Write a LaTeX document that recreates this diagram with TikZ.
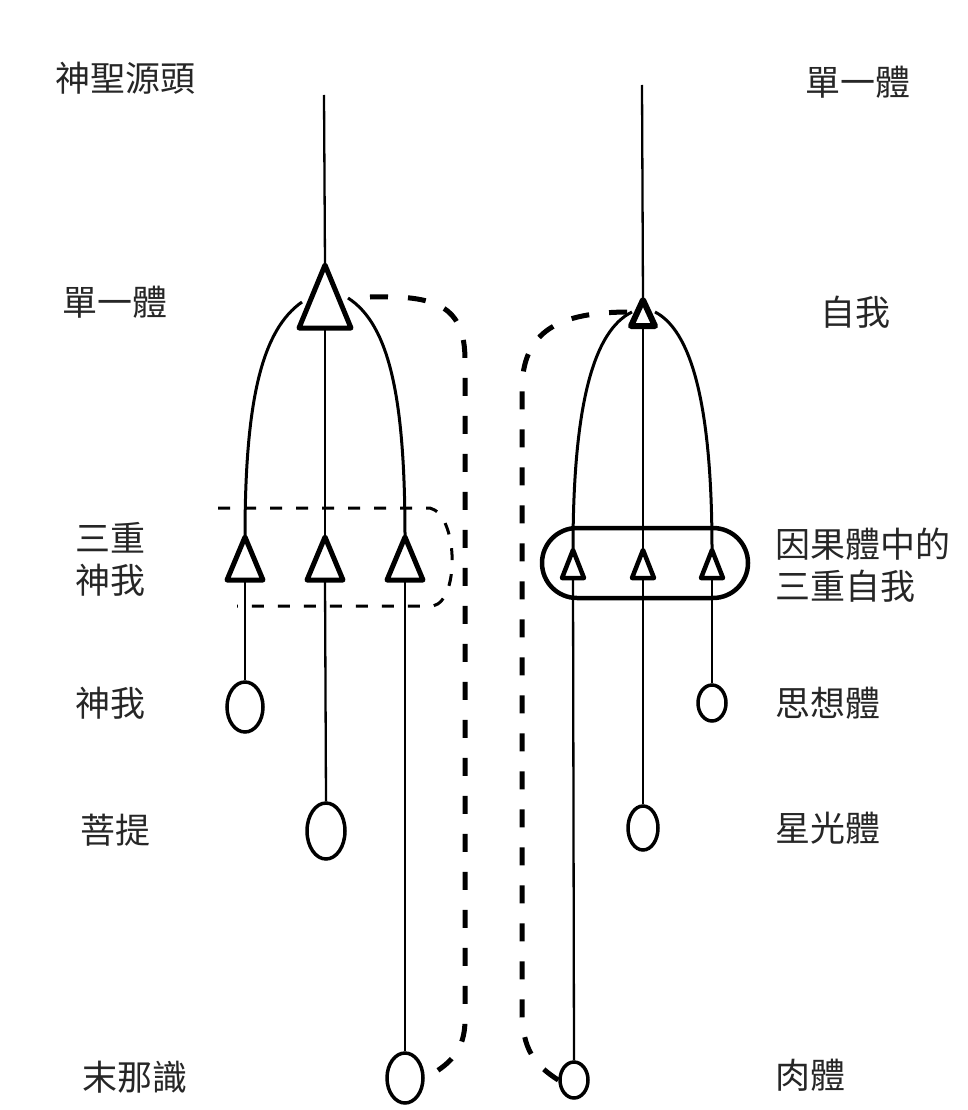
\documentclass[tikz,border=0pt]{standalone}
\usepackage{fontspec}
\newfontfamily\cjk{Noto Sans CJK TC}
\usetikzlibrary{arrows.meta,positioning,shapes.geometric,calc}

\begin{document}
\begin{tikzpicture}[x=1pt,y=-1pt,
  lbl/.style={font=\cjk\fontsize{35}{42}\selectfont, text=black!85, inner sep=0pt},
  stem/.style={line width=2.3pt},
  arcline/.style={line width=3pt},
  tri/.style={line width=5pt, line join=round, fill=white},
  bulb/.style={draw, ellipse, line width=3.5pt, inner sep=0pt, fill=white},
  loopline/.style={line width=5pt, dash pattern=on 18pt off 20pt},
  fence/.style={line width=3pt, dash pattern=on 12pt off 14pt},
]
\useasboundingbox (0,0) rectangle (968,1110);

% left column: monad, spiritual triad
\coordinate (LT) at (324,95);
\coordinate (LA) at (325,265);
\coordinate (LB) at (325,328);
\coordinate (L1) at (245,537);
\coordinate (L2) at (325,537);
\coordinate (L3) at (405,537);

\draw[fence] (218,508) -- (430,508)
  .. controls (458,515) and (460,600) .. (433,606) -- (237,606);

\draw[stem] (LT) -- (LA);
\draw[stem] (LB) -- (L2);
\draw[arcline] (302,302) .. controls (262,330) and (245,400) .. (L1);
\draw[arcline] (348,298) .. controls (390,325) and (405,400) .. (L3);

\node[bulb, minimum width=36pt, minimum height=50pt] (atma) at (245,707) {};
\node[bulb, minimum width=38pt, minimum height=56pt] (buddhi) at (326,831) {};
\node[bulb, minimum width=36pt, minimum height=50pt] (manas) at (405,1078) {};

\draw[stem] ($(L1)+(0,43)$) -- (atma.north);
\draw[stem] ($(L2)+(0,43)$) -- (buddhi.north);
\draw[stem] ($(L3)+(0,43)$) -- (manas.north);

\draw[tri] (LA) -- ++(-26,63) -- ++(52,0) -- cycle;
\foreach \p in {L1,L2,L3}
  \draw[tri] (\p) -- ++(-18,43) -- ++(36,0) -- cycle;

\draw[loopline] (370,297) .. controls (435,295) and (465,305) .. (465,360)
  -- (465,1020) .. controls (465,1050) and (450,1065) .. (manas.east);

% right column: ego, triad in causal body
\coordinate (RT) at (642,85);
\coordinate (RA) at (643,300);
\coordinate (RB) at (643,326);
\coordinate (R1) at (573,550);
\coordinate (R2) at (643,550);
\coordinate (R3) at (712,550);

\draw[stem] (RT) -- (RA);
\draw[stem] (RB) -- (R2);
\draw[arcline] (632,312) .. controls (595,330) and (573,400) .. (R1);
\draw[arcline] (655,312) .. controls (690,330) and (712,400) .. (R3);

\draw[line width=4.5pt, rounded corners=35pt] (542,528) rectangle (748,598);

\node[bulb, minimum width=28pt, minimum height=36pt] (mental) at (712,703) {};
\node[bulb, minimum width=30pt, minimum height=44pt] (astral) at (643,828) {};
\node[bulb, minimum width=28pt, minimum height=36pt] (physical) at (574,1080) {};

\draw[stem] ($(R1)+(0,28)$) -- (physical.north);
\draw[stem] ($(R2)+(0,28)$) -- (astral.north);
\draw[stem] ($(R3)+(0,28)$) -- (mental.north);

\draw[tri, line width=6pt] (RA) -- ++(-12,26) -- ++(24,0) -- cycle;
\foreach \p in {R1,R2,R3}
  \draw[tri, line width=4.5pt] (\p) -- ++(-11,28) -- ++(22,0) -- cycle;

\draw[loopline] (physical.west) .. controls (535,1065) and (522,1050) .. (522,1010)
  -- (522,390) .. controls (522,330) and (560,312) .. (630,312);

% labels
\node[lbl] (srcL) at (125,78) {神聖源頭};
\node[lbl] (monadL) at (115,302) {單一體};
\node[lbl, align=left] (triadL) at (110,559) {三重\\神我};
\node[lbl] (atmaL) at (110,703) {神我};
\node[lbl] (buddhiL) at (115,830) {菩提};
\node[lbl] (manasL) at (135,1077) {末那識};

\node[lbl] (monadR) at (858,82) {單一體};
\node[lbl] (egoR) at (855,312) {自我};
\node[lbl, anchor=west, align=left] (triadR) at (775,565) {因果體中的\\三重自我};
\node[lbl, anchor=west] (mentalR) at (775,703) {思想體};
\node[lbl, anchor=west] (astralR) at (775,828) {星光體};
\node[lbl, anchor=west] (physR) at (775,1075) {肉體};
\end{tikzpicture}
\end{document}
